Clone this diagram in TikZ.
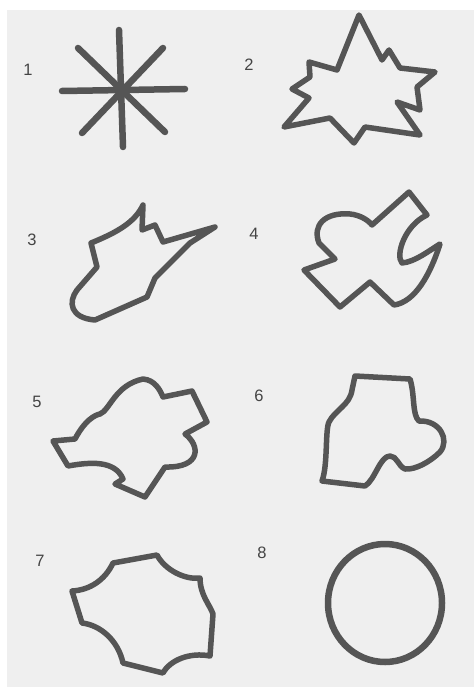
\documentclass[tikz,border=0pt]{standalone}
\usepackage{fontspec}
\setmainfont{Liberation Sans}
\definecolor{paper}{HTML}{EFEFEF}
\definecolor{ink}{HTML}{555555}
\definecolor{numgray}{HTML}{444444}

\begin{document}
\begin{tikzpicture}[
    x=1pt, y=-1pt,
    every node/.style={font=\fontsize{16.5}{16.5}\selectfont, text=numgray},
    outline/.style={draw=ink, line width=5.5pt, line join=round, line cap=round}
]

    % ---- Sheet ----
    \fill[white] (0,0) rectangle (474,687);
    \fill[paper] (7,10) rectangle (474,687);

    % ---- Labels ----
    \node (lbl1) at (28,70) {1};
    \node (lbl2) at (249,65) {2};
    \node (lbl3) at (32,240) {3};
    \node (lbl4) at (254,234) {4};
    \node (lbl5) at (37,402) {5};
    \node (lbl6) at (259,396) {6};
    \node (lbl7) at (40,561) {7};
    \node (lbl8) at (262,553) {8};

    % ---- 1: asterisk ----
    \draw[outline, line width=6.5pt] (119,30) -- (123,147);
    \draw[outline, line width=6.5pt] (62,91) -- (185,89);
    \draw[outline, line width=6.5pt] (78,48) -- (165,132);
    \draw[outline, line width=6.5pt] (163,48) -- (82,133);

    % ---- 2: spiky star ----
    \draw[outline] (359,15) -- (382,60) -- (389,50) -- (400,68) -- (435,72)
        -- (417,87) -- (420,110) -- (397,102) -- (420,135) -- (365,127)
        -- (354,143) -- (330,118) -- (284,127) -- (309,98) -- (292,89)
        -- (310,77) -- (309,62) -- (337,70) -- cycle;

    % ---- 3: boot ----
    \draw[outline] (143,205) -- (142,230) -- (155,225) -- (163,242) -- (215,227)
        -- (190,243) -- (155,278) -- (147,297) -- (95,320)
        .. controls (70,318) and (68,302) .. (77,290) -- (97,267) -- (91,243)
        .. controls (118,232) and (135,222) .. cycle;

    % ---- 4: bird ----
    \draw[outline] (409,192) -- (427,215)
        .. controls (405,225) and (395,255) .. (402,263)
        .. controls (415,262) and (430,250) .. (440,244)
        .. controls (430,275) and (415,302) .. (394,305)
        -- (370,282) -- (340,307) -- (304,270) -- (335,259) -- (319,243)
        .. controls (312,225) and (325,212) .. (350,214)
        .. controls (360,215) and (368,220) .. (372,225) -- cycle;

    % ---- 5: blob ----
    \draw[outline] (143,379) .. controls (155,380) and (160,390) .. (163,397)
        -- (192,391) -- (207,422) -- (185,434)
        .. controls (200,445) and (202,468) .. (165,467)
        -- (145,497) -- (115,484) -- (123,479)
        .. controls (115,460) and (90,462) .. (68,466)
        -- (53,441) -- (75,439)
        .. controls (85,420) and (95,415) .. (100,414)
        .. controls (110,410) and (115,385) .. cycle;

    % ---- 6: arch ----
    \draw[outline] (355,376) -- (410,379)
        .. controls (415,395) and (412,415) .. (419,421)
        .. controls (440,420) and (450,440) .. (440,452)
        .. controls (430,462) and (415,470) .. (405,469)
        .. controls (398,466) and (397,456) .. (390,456)
        .. controls (380,456) and (375,480) .. (365,486)
        -- (322,481) .. controls (328,465) and (325,430) .. (329,422)
        .. controls (335,410) and (350,405) .. (352,390) -- cycle;

    % ---- 7: scalloped ----
    \draw[outline] (157,555) .. controls (165,570) and (185,580) .. (200,578)
        .. controls (200,595) and (210,605) .. (213,614) -- (210,656)
        .. controls (190,652) and (170,660) .. (163,673) -- (123,663)
        .. controls (118,640) and (100,625) .. (82,623) -- (72,591)
        .. controls (90,590) and (105,580) .. (113,563) -- cycle;

    % ---- 8: circle ----
    \draw[outline, line width=6.5pt] (385,603) ellipse [x radius=57, y radius=59];

\end{tikzpicture}
\end{document}
